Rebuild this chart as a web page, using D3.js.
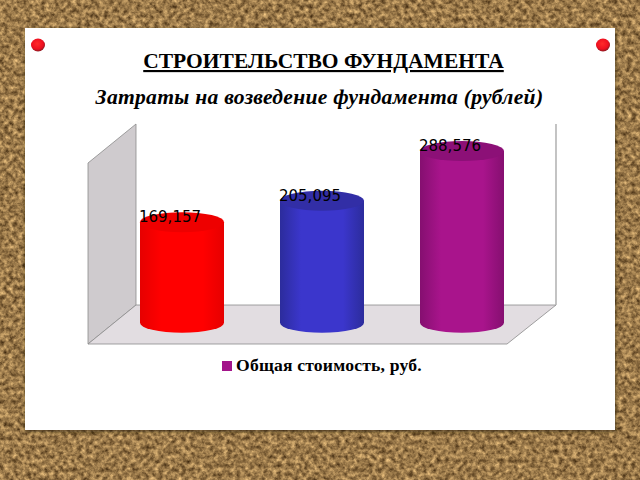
<!DOCTYPE html>
<html>
<head>
<meta charset="utf-8">
<script src="https://cdn.jsdelivr.net/npm/d3@7"></script>
<style>
html,body{margin:0;padding:0;background:#9c7a45;overflow:hidden}
svg{display:block}
</style>
</head>
<body>
<svg id="c" width="640" height="480"></svg>
<script>
const categories = ["Вариант 1", "Вариант 2", "Вариант 3"];
const values = [169157, 205095, 288576];
const seriesName = "Общая стоимость, руб.";
const titleText = "СТРОИТЕЛЬСТВО ФУНДАМЕНТА";
const subtitleText = "Затраты на возведение фундамента (рублей)";
const palette = [
  {edge:"#e60000", mid:"#ff0000", top:"#ee0000"},
  {edge:"#2c2c9c", mid:"#3b36cc", top:"#322ea6"},
  {edge:"#850f70", mid:"#a9148c", top:"#8c1077"}
];

const svg = d3.select("#c");
const defs = svg.append("defs");

// cork board texture
const cork = defs.append("filter").attr("id","cork")
  .attr("color-interpolation-filters","sRGB")
  .attr("x",0).attr("y",0).attr("width","100%").attr("height","100%");
cork.append("feTurbulence").attr("type","fractalNoise").attr("baseFrequency",0.22)
  .attr("numOctaves",3).attr("seed",7).attr("result","n");
cork.append("feColorMatrix").attr("in","n").attr("type","matrix")
  .attr("values","0.85 0 0 0 0.18  0.75 0 0 0 0.10  0.55 0 0 0 0.015  0 0 0 0 1");
svg.append("rect").attr("width",640).attr("height",480).attr("fill","#9c7a45").attr("filter","url(#cork)");

const blur = defs.append("filter").attr("id","soft").attr("x","-5%").attr("y","-5%").attr("width","110%").attr("height","110%");
blur.append("feGaussianBlur").attr("stdDeviation",1.4);

// paper
svg.append("rect").attr("x",25).attr("y",29).attr("width",591).attr("height",403).attr("fill","#2e2010").attr("opacity",.6).attr("filter","url(#soft)");
svg.append("rect").attr("x",25).attr("y",28).attr("width",590).attr("height",402).attr("fill","#fff");

// pins
const pinG = defs.append("radialGradient").attr("id","pin").attr("cx","45%").attr("cy","40%").attr("r","60%");
pinG.append("stop").attr("offset","0").attr("stop-color","#ff2a2a");
pinG.append("stop").attr("offset",".7").attr("stop-color","#ee0f1f");
pinG.append("stop").attr("offset","1").attr("stop-color","#8d1a22");
svg.selectAll("ellipse.pin").data([38,603]).join("ellipse").attr("class","pin")
  .attr("cx",d=>d).attr("cy",45).attr("rx",7).attr("ry",6.4).attr("fill","url(#pin)");

// titles
svg.append("text").attr("x",323.5).attr("y",68).attr("text-anchor","middle")
  .attr("font-family","Liberation Serif").attr("font-weight","bold").attr("font-size",21.5)
  .attr("text-decoration","underline").attr("fill","#000").text(titleText);
svg.append("text").attr("x",319.5).attr("y",104).attr("text-anchor","middle")
  .attr("font-family","Liberation Serif").attr("font-weight","bold").attr("font-style","italic").attr("font-size",21.6)
  .attr("letter-spacing",0.28).attr("fill","#000").text(subtitleText);

// scales
const x = d3.scalePoint().domain(categories).range([182,462]);
const y = d3.scaleLinear().domain([0,300000]).range([322.8,144.3]);
const rx = 42, ry = 10;

// 3D walls
const L=88,R=507,dx=48,B=344,dy=39,T=163;
const line = d3.line();
svg.append("path").attr("d",line([[L,T],[L+dx,T-dy],[L+dx,B-dy],[L,B]])+"Z")
  .attr("fill","#cfcbce").attr("stroke","#8a8a8a").attr("stroke-width",.8);
svg.append("path").attr("d",line([[L,B],[L+dx,B-dy],[R+dx+1,B-dy],[R,B]])+"Z")
  .attr("fill","#e2dde1").attr("stroke","#8a8a8a").attr("stroke-width",.8);
svg.append("path").attr("d",line([[R+dx+1,B-dy],[R+dx+1,T-dy]]))
  .attr("fill","none").attr("stroke","#b5b5b5").attr("stroke-width",1.6);

// cylinders
const rows = categories.map((c,i)=>({c,v:values[i],i}));
rows.forEach(d=>{
  const g = defs.append("linearGradient").attr("id","cyl"+d.i);
  const p = palette[d.i];
  [[0,p.edge],[.25,p.mid],[.75,p.mid],[1,p.edge]].forEach(s=>g.append("stop").attr("offset",s[0]).attr("stop-color",s[1]));
});
const cyl = svg.selectAll("g.cyl").data(rows).join("g").attr("class","cyl");
cyl.append("path")
  .attr("d",d=>{
    const cx=x(d.c), t=y(d.v), b=y(0);
    return `M${cx-rx},${t}V${b}A${rx},${ry} 0 0 0 ${cx+rx},${b}V${t}Z`;
  })
  .attr("fill",d=>`url(#cyl${d.i})`);
cyl.append("ellipse").attr("cx",d=>x(d.c)).attr("cy",d=>y(d.v)).attr("rx",rx).attr("ry",ry)
  .attr("fill",d=>palette[d.i].top);
const fmt = d3.format(",");
cyl.append("text").attr("x",d=>x(d.c)-12).attr("y",d=>y(d.v)).attr("text-anchor","middle")
  .attr("font-family","DejaVu Sans").attr("font-size",15).attr("fill","#000").text(d=>fmt(d.v));

// legend
svg.append("rect").attr("x",222).attr("y",361).attr("width",10).attr("height",10).attr("fill","#a3148a");
svg.append("text").attr("x",236).attr("y",371)
  .attr("font-family","Liberation Serif").attr("font-weight","bold").attr("font-size",17.6).attr("letter-spacing",0.2)
  .attr("fill","#000").text(seriesName);
</script>
</body>
</html>
